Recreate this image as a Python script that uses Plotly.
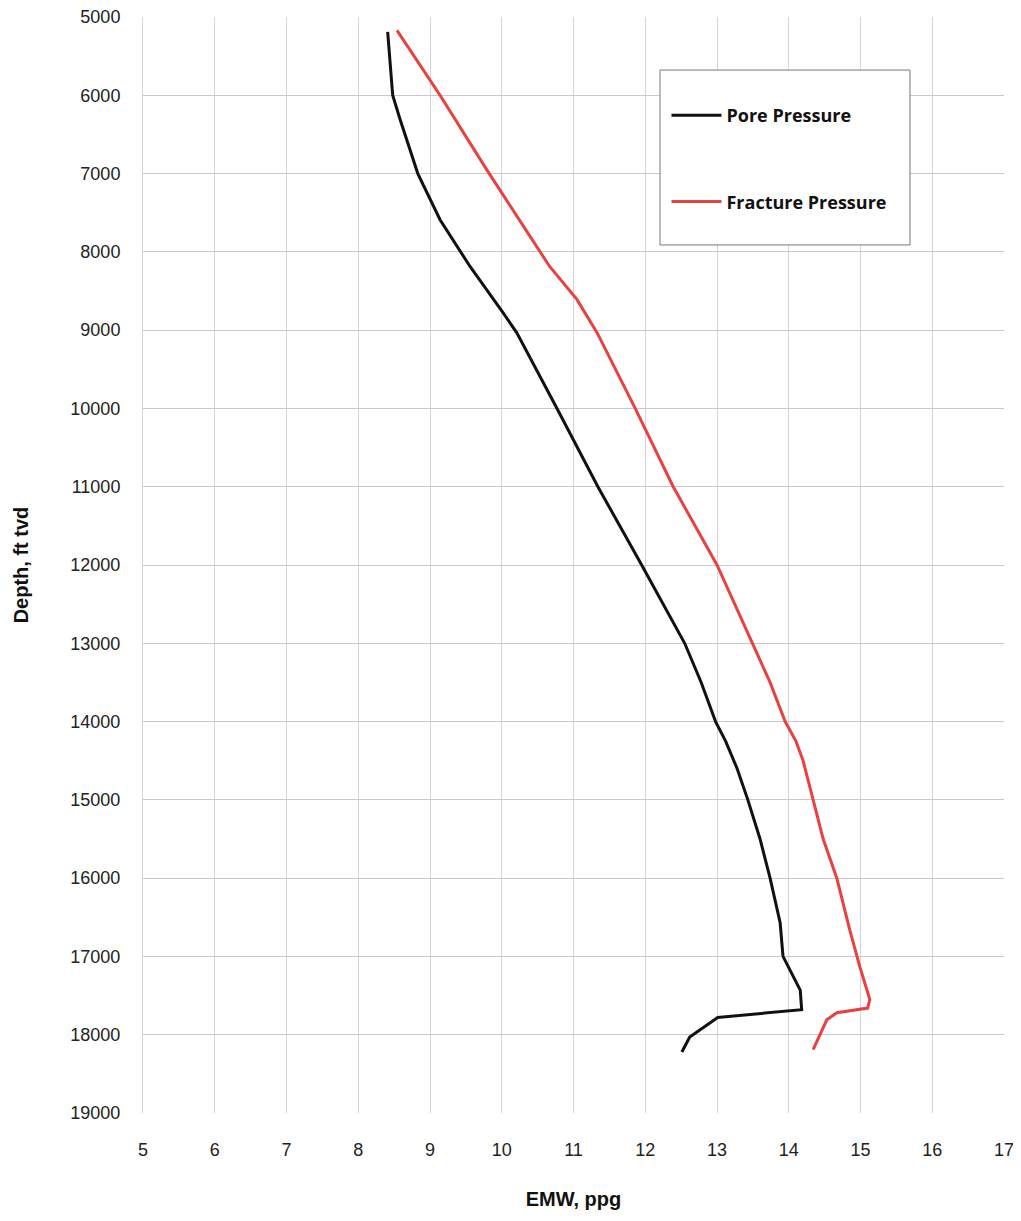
import plotly.graph_objects as go

# Pore pressure (EMW ppg vs depth ft tvd)
pore_emw = [8.41, 8.48, 8.58, 8.72, 8.83, 9.14, 9.56, 10.02, 10.21, 10.77, 11.34, 11.95, 12.55,
            12.78, 12.98, 13.12, 13.28, 13.43, 13.6, 13.74, 13.88, 13.92, 14.16, 14.18, 13.01, 12.62, 12.51]
pore_depth = [5190, 6000, 6300, 6700, 7000, 7590, 8190, 8780, 9035, 10000, 11000, 12000, 13000,
              13500, 14000, 14250, 14600, 15000, 15500, 16000, 16570, 17000, 17430, 17680, 17780, 18030, 18220]

# Fracture pressure
frac_emw = [8.54, 9.14, 9.79, 10.25, 10.67, 11.05, 11.33, 11.86, 12.39, 13.0, 13.5, 13.74,
            13.95, 14.1, 14.2, 14.27, 14.33, 14.48, 14.67, 14.85, 14.99, 15.13, 15.1, 14.67, 14.53, 14.44, 14.34]
frac_depth = [5170, 6000, 6950, 7590, 8190, 8610, 9035, 10000, 11000, 12000, 13000, 13500,
              14000, 14250, 14500, 14750, 15000, 15500, 16000, 16660, 17130, 17550, 17660, 17720, 17810, 17980, 18190]

x_ticks = list(range(5, 18))
y_ticks = list(range(5000, 19001, 1000))

fig = go.Figure()
fig.add_trace(go.Scatter(x=pore_emw, y=pore_depth, mode="lines", name="<b>Pore Pressure</b>",
                         line=dict(color="#111111", width=3), legendgroup="a"))
fig.add_trace(go.Scatter(x=frac_emw, y=frac_depth, mode="lines", name="<b>Fracture Pressure</b>",
                         line=dict(color="#e8413f", width=3), legendgroup="b"))

tick_font = dict(family="Liberation Sans Narrow, Arial Narrow, Liberation Sans, sans-serif", size=18, color="#222")
title_font = dict(family="Liberation Sans, Arial, sans-serif", size=20, color="#111")

fig.update_layout(
    width=1013, height=1213,
    margin=dict(l=135, r=17, t=9, b=108),
    paper_bgcolor="white", plot_bgcolor="white",
    showlegend=True,
    legend=dict(x=0.608, y=0.927, xanchor="left", yanchor="top",
                bgcolor="rgba(0,0,0,0)", borderwidth=0,
                font=dict(family="Open Sans, Liberation Sans, sans-serif", size=18, color="#111"),
                tracegroupgap=60, itemwidth=50),
    shapes=[dict(type="rect", xref="paper", yref="paper",
                 x0=0.6005, x1=0.8908, y0=0.792, y1=0.9516,
                 line=dict(color="#777", width=1), fillcolor="white", layer="above")],
)
fig.update_xaxes(range=[5, 17], tickvals=x_ticks, ticktext=[str(v) for v in x_ticks],
                 showgrid=True, gridcolor="#d4d4dc", gridwidth=1, zeroline=False,
                 showline=False, tickfont=tick_font, ticks="", ticklabelstandoff=24,
                 title=dict(text="<b>EMW, ppg</b>", font=title_font, standoff=32),
                 automargin=False)
fig.update_yaxes(range=[19000, 5000], tickvals=y_ticks, ticktext=[str(v) for v in y_ticks],
                 showgrid=True, gridcolor="#c8c8d0", gridwidth=1, zeroline=False,
                 showline=True, linecolor="#d4d4dc", linewidth=1,
                 tickfont=tick_font, ticks="", ticklabelstandoff=18,
                 ticklabeloverflow="allow",
                 title=dict(text="<b>Depth, ft tvd</b>", font=title_font, standoff=36),
                 automargin=False)

fig.write_html("out.html")
